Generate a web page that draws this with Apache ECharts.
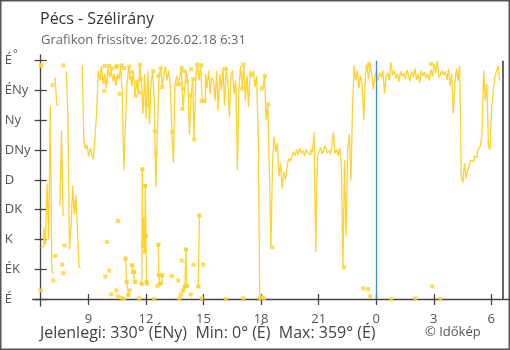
<!DOCTYPE html>
<html><head><meta charset="utf-8">
<script src="https://cdn.jsdelivr.net/npm/echarts@6/dist/echarts.min.js"></script>
<style>html,body{margin:0;padding:0;background:#fff}#c{width:510px;height:350px}</style>
</head><body><div id="c"></div>
<script>
// ---- data ----
const startTime = "06:31";      // first reading (previous day)
const stepMinutes = 5;          // sampling interval of main readings
const frameEndTime = "06:37";   // right frame line (next morning)
const midnightTime = "00:00";

// wind direction (degrees), one value every 5 minutes from 06:31; null = break (line crosses north)
const dirs = [
  78, 80, 108, 82, 174, 90, 292, 40, null, 335, 293, null,
  141, 254, 126, null, 344, 279, 75, 111, 171, 128, 158, 104,
  48, null, 353, 240, 226, 233, 215, 228, 218, 211, 246, 282,
  345, 330, 352, 325, 340, 318, 350, 335, 345, 330, 340, 322,
  340, 332, 352, 310, 194, 264, 325, 349, 335, 322, 343, 307,
  328, 312, 354, 332, 280, 340, 272, 344, 264, 326, 344, 300,
  169, 254, 337, 349, 320, 338, 352, 330, 345, 325, 252, 206,
  322, 337, 328, 335, 349, 287, 318, 344, 329, 249, 307, 332,
  241, 335, 354, 330, 353, 299, 299, 340, 318, 345, 310, 335,
  330, 300, 345, 285, 340, 315, 350, 292, 348, 328, 275, 340,
  345, 310, 330, 194, 320, 352, 318, 354, 300, 338, 290, 345,
  335, 345, 320, 337, 252, 2, null, 318, 337, 270, 295, 194,
  78, 210, 245, 222, 236, 185, 205, 167, 192, 180, 200, 212,
  208, 214, 222, 216, 226, 218, 228, 220, 224, 216, 226, 221,
  218, 226, 222, 252, 71, 215, 223, 229, 219, 226, 232, 221,
  224, 218, 230, 252, 220, 226, 216, 228, 205, 48, 210, 96,
  225, 249, 179, 290, 352, 330, 345, 318, 338, 325, 270, 340,
  351, 332, 355, 340, 316, 336, 344, 330, 342, 335, 345, 310,
  336, 342, 330, 358, 338, 345, 333, 340, 328, 344, 336, 341,
  332, 346, 338, 329, 343, 335, 348, 331, 340, 327, 345, 337,
  343, 333, 340, 330, 347, 336, 355, 341, 360, 334, 339, 345,
  338, 344, 331, 347, 322, 340, 280, 325, 348, 330, 352, 185,
  176, 205, 182, 195, 200, 210, 208, 216, 214, 222, 228, 232,
  250, 345, 300, 325, 230, 226, 290, 315, 335, 345, 352, 330
];

// single (isolated) readings drawn as squares
const spotTimes = [
  "06:31","06:31","06:33","07:08","07:10","07:17","07:38","07:42","07:42","07:45",
  "09:50","09:51","09:53","09:56","09:58","10:05","10:05","10:12","10:14","10:25",
  "10:27","10:27","10:29","10:32","10:33","10:37","10:44","10:44","10:52","10:52",
  "11:08","11:10","11:12","11:17","11:28","11:33","11:39","11:39","11:41","11:44",
  "12:02","12:04","12:23","12:26","12:28","12:32","12:36","12:39","12:46","12:51",
  "13:21","13:22","13:39","13:41","13:44","13:44","13:49","13:52","13:52","13:54",
  "13:57","14:00","14:08","14:18","14:20","14:21","14:28","14:28","14:31","14:41",
  "14:54","14:54","14:54","14:59","15:03","16:10","16:10","17:01","17:05","17:05",
  "17:56","18:02","18:02","18:09","18:12","18:23","18:35","22:19","23:20","23:32",
  "23:35","23:38","23:41","00:47","02:02","02:52","02:55","03:20"
];
const spotDirs = [
  352, 13, 354, 323, 28, 65, 52, 353, 39, 81,
  314, 352, 34, 328, 86, 43, 352, 7, 348, 332,
  13, 350, 352, 4, 118, 310, 2, 353, 0, 349,
  351, 13, 334, 343, 307, 328, 312, 1, 354, 332,
  294, 23, 344, 0, 254, 220, 20, 337, 349, 320,
  35, 252, 324, 28, 1, 325, 7, 58, 349, 287,
  318, 344, 329, 307, 7, 347, 52, 332, 241, 354,
  1, 353, 299, 52, 299, 0, 348, 318, 1, 354,
  1, 3, 318, 1, 337, 294, 78, 48, 16, 351,
  15, 355, 4, 0, 1, 355, 19, 0
];

// short fragments near north (null separates fragments)
const fragTimes = ["10:56","11:00","11:05",null,"11:17","11:20","11:23","11:26",null,
  "11:47","11:49","11:51","11:53","11:56","11:58","12:00","12:02",null,
  "12:39","12:40","12:44","12:51",null,"13:57","14:02","14:05","14:08",null,"14:44","14:47"];
const fragDirs = [61,26,6,null,51,41,41,26,null,
  23,196,80,120,72,171,95,26,null,
  82,36,23,36,null,13,19,75,20,null,19,126];

const dirTicks = [0, 45, 90, 135, 180, 225, 270, 315, 360];
const dirLabels = ["É", "ÉK", "K", "DK", "D", "DNy", "Ny", "ÉNy", "É"];
const hourTicks = [9, 12, 15, 18, 21, 0, 3, 6];

const titleText = "Pécs - Szélirány";
const subtitleText = "Grafikon frissítve: 2026.02.18 6:31";
const footerText = "Jelenlegi: 330° (ÉNy)  Min: 0° (É)  Max: 359° (É)";
const creditText = "© Időkép";

// ---- helpers ----
function clockH(t){ const p = t.split(":").map(Number); return p[0] + p[1]/60; }
const startH = clockH(startTime);
function rel(t){ let h = clockH(t) - startH; if (h < 0) h += 24; return h; }

const mainData = dirs.map((d, j) => [j * stepMinutes / 60, d]);
const isolated = mainData.filter((p, j) => p[1] != null &&
  (j === 0 || dirs[j-1] == null) && (j === dirs.length - 1 || dirs[j+1] == null));
const spotData = spotTimes.map((t, i) => [rel(t), spotDirs[i]]);
let lastX = 0;
const fragData = fragTimes.map((t, i) => {
  if (t === null) return [lastX, null];
  lastX = rel(t); return [lastX, fragDirs[i]];
});
const tickX = hourTicks.map(h => rel((h < 10 ? "0" : "") + h + ":00"));
let endX = rel(frameEndTime); if (endX < 1) endX += 24;
const midX = rel(midnightTime);

const FONT = "'Open Sans', 'Noto Sans', sans-serif";
const YEL = "#ffd22e";
const AX = "#444";
const xMin = -0.417, xMax = 24.456, yMin = -10.5, yMax = 368.6;

const chart = echarts.init(document.getElementById('c'), null, {renderer: 'canvas'});
chart.setOption({
  animation: false,
  backgroundColor: '#fff',
  grid: {left: 32.7, right: 0, top: 55, bottom: 44, containLabel: false, outerBoundsMode: 'none'},
  xAxis: [{
    type: 'value', min: xMin, max: xMax,
    axisLine: {show: true, onZero: true, onZeroAxisIndex: 0, lineStyle: {color: AX, width: 1.3}},
    axisTick: {show: true, customValues: tickX, length: 6, lineStyle: {color: AX, width: 1.3}},
    axisLabel: {customValues: tickX, color: '#555', fontSize: 13, fontFamily: FONT, margin: 7,
      formatter: v => { const i = tickX.findIndex(t => Math.abs(t - v) < 1e-6); return i >= 0 ? String(hourTicks[i]) : ''; }},
    splitLine: {show: false}
  }, {
    type: 'value', min: xMin, max: xMax, position: 'bottom',
    axisLine: {show: false, onZero: true, onZeroAxisIndex: 0},
    axisTick: {show: true, inside: true, customValues: tickX, length: 5, lineStyle: {color: AX, width: 1.3}},
    axisLabel: {show: false}, splitLine: {show: false}
  }],
  yAxis: [{
    type: 'value', min: yMin, max: yMax,
    axisLine: {show: true, onZero: true, onZeroAxisIndex: 0, lineStyle: {color: AX, width: 1.3}},
    axisTick: {show: true, customValues: dirTicks, length: 6, lineStyle: {color: AX, width: 1.3}},
    axisLabel: {customValues: dirTicks, color: '#555', fontSize: 13, fontFamily: FONT, align: 'left', margin: 28,
      formatter: v => { const i = dirTicks.indexOf(v); return i >= 0 ? dirLabels[i] : ''; }},
    splitLine: {show: false}
  }, {
    type: 'value', min: yMin, max: yMax, position: 'left',
    axisLine: {show: false, onZero: true, onZeroAxisIndex: 0},
    axisTick: {show: true, inside: true, customValues: dirTicks, length: 6, lineStyle: {color: AX, width: 1.3}},
    axisLabel: {show: false}, splitLine: {show: false}
  }],
  series: [{
    type: 'line', step: 'end', data: mainData, showSymbol: false, connectNulls: false,
    lineStyle: {color: YEL, width: 1.3}, itemStyle: {color: YEL}, z: 3,
    markLine: {
      silent: true, symbol: 'none', label: {show: false},
      data: [
        [{coord: [midX, 0], lineStyle: {color: '#3d8fd6', width: 1.3, type: 'solid'}}, {coord: [midX, 360]}],
        [{coord: [endX, 0], lineStyle: {color: '#333', width: 1.5, type: 'solid'}}, {coord: [endX, 360]}]
      ]
    }
  }, {
    type: 'line', step: 'end', data: fragData, showSymbol: true, showAllSymbol: true, symbol: 'rect', symbolSize: 4,
    connectNulls: false, lineStyle: {color: YEL, width: 1.3}, itemStyle: {color: YEL}, z: 3
  }, {
    type: 'scatter', data: spotData.concat(isolated), symbol: 'rect', symbolSize: 4,
    itemStyle: {color: YEL}, z: 4
  }],
  graphic: [
    {type: 'rect', shape: {x: 0.75, y: 0.75, width: 508.5, height: 348.5}, style: {fill: 'none', stroke: '#555', lineWidth: 1.5}, silent: true},
    {type: 'text', x: 40, y: 19, style: {text: titleText, font: '16px ' + FONT, fill: '#333', verticalAlign: 'middle'}},
    {type: 'text', x: 41, y: 40.5, style: {text: subtitleText, font: '13px ' + FONT, fill: '#666', verticalAlign: 'middle'}},
    {type: 'text', x: 13, y: 54, style: {text: '°', font: '11px ' + FONT, fill: '#555', verticalAlign: 'middle'}},
    {type: 'text', x: 40, y: 333, style: {text: footerText, font: '16px ' + FONT, fill: '#444', verticalAlign: 'middle'}},
    {type: 'text', x: 425, y: 332, style: {text: creditText, font: '13px ' + FONT, fill: '#555', verticalAlign: 'middle'}}
  ]
});
</script>
</body></html>
